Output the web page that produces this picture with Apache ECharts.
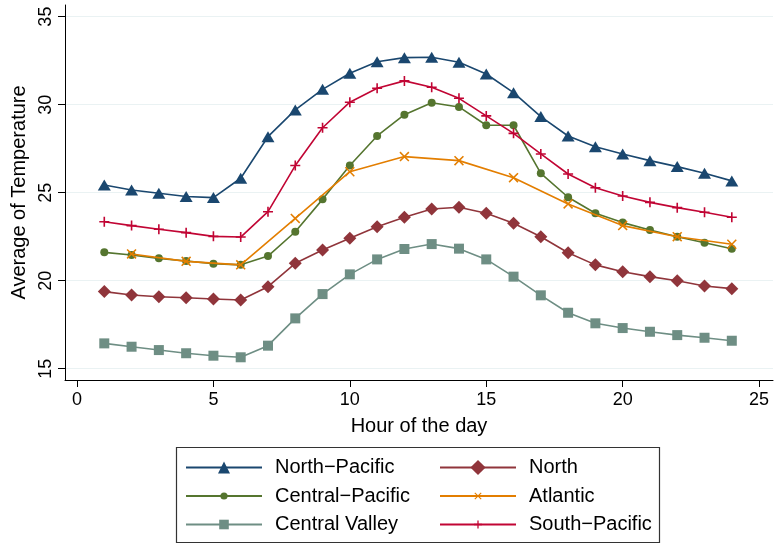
<!DOCTYPE html>
<html>
<head>
<meta charset="utf-8">
<title>Average of Temperature by hour</title>
<script src="https://cdn.jsdelivr.net/npm/echarts@6/dist/echarts.min.js"></script>
<style>
  html, body { margin: 0; padding: 0; background: #ffffff; }
  #chart { width: 775px; height: 544px; }
</style>
</head>
<body>
<div id="chart"></div>
<script>
// Hours of the day (x values)
const hours = [1, 2, 3, 4, 5, 6, 7, 8, 9, 10, 11, 12, 13, 14, 15, 16, 17, 18, 19, 20, 21, 22, 23, 24];
const atlanticHours = [2, 4, 6, 8, 10, 12, 14, 16, 18, 20, 22, 24];

// Average temperature per region
const northPacific   = [25.44, 25.15, 24.97, 24.78, 24.72, 25.82, 28.18, 29.70, 30.87, 31.78, 32.44, 32.67, 32.69, 32.41, 31.74, 30.68, 29.32, 28.22, 27.61, 27.20, 26.82, 26.48, 26.10, 25.67];
const north          = [19.38, 19.19, 19.09, 19.03, 18.96, 18.90, 19.66, 20.99, 21.74, 22.41, 23.07, 23.60, 24.07, 24.17, 23.83, 23.26, 22.50, 21.59, 20.90, 20.51, 20.23, 20.00, 19.70, 19.55];
const centralPacific = [21.61, 21.46, 21.27, 21.12, 20.97, 20.90, 21.40, 22.78, 24.62, 26.54, 28.22, 29.43, 30.11, 29.87, 28.83, 28.83, 26.10, 24.74, 23.83, 23.30, 22.88, 22.50, 22.16, 21.82];
const atlantic       = [21.52, 21.10, 20.90, 23.54, 26.19, 27.05, 26.82, 25.85, 24.36, 23.13, 22.50, 22.07];
const centralValley  = [16.44, 16.25, 16.06, 15.88, 15.74, 15.65, 16.31, 17.86, 19.24, 20.36, 21.21, 21.80, 22.08, 21.82, 21.21, 20.23, 19.17, 18.18, 17.58, 17.31, 17.10, 16.91, 16.76, 16.59];
const southPacific   = [23.35, 23.13, 22.92, 22.73, 22.52, 22.48, 23.92, 26.54, 28.69, 30.14, 30.93, 31.35, 30.99, 30.36, 29.36, 28.37, 27.20, 26.06, 25.28, 24.81, 24.45, 24.15, 23.89, 23.60];

// Tick labels
const xTicks = [0, 5, 10, 15, 20, 25];
const yTicks = [15, 20, 25, 30, 35];

// Region names
const names = ['North\u2212Pacific', 'North', 'Central\u2212Pacific', 'Atlantic', 'Central Valley', 'South\u2212Pacific'];

const FONT = '"Liberation Sans", Arial, Helvetica, sans-serif';
const PLUS = 'path://M4.2,0H5.8V4.2H10V5.8H5.8V10H4.2V5.8H0V4.2H4.2Z';
const CROSS = 'path://M0,1.1L1.1,0L5,3.9L8.9,0L10,1.1L6.1,5L10,8.9L8.9,10L5,6.1L1.1,10L0,8.9L3.9,5Z';

const pairs = (xs, ys) => xs.map((x, i) => [x, ys[i]]);

const styles = [
  { color: '#1a476f', symbol: 'triangle', size: [13, 11], legendH: 15 },
  { color: '#90353b', symbol: 'diamond',  size: 13,       legendH: 19 },
  { color: '#55752f', symbol: 'circle',   size: 8,        legendH: 9 },
  { color: '#e37e00', symbol: CROSS,      size: 10,       legendH: 9 },
  { color: '#6e8e84', symbol: 'rect',     size: 10,       legendH: 12 },
  { color: '#c10534', symbol: PLUS,       size: 10,       legendH: 10 }
];
const seriesData = [
  pairs(hours, northPacific),
  pairs(hours, north),
  pairs(hours, centralPacific),
  pairs(atlanticHours, atlantic),
  pairs(hours, centralValley),
  pairs(hours, southPacific)
];

const series = names.map((name, i) => ({
  name: name,
  type: 'line',
  data: seriesData[i],
  symbol: styles[i].symbol,
  symbolSize: styles[i].size,
  showAllSymbol: true,
  lineStyle: { color: styles[i].color, width: 1.6 },
  itemStyle: { color: styles[i].color, borderWidth: 0 },
  emphasis: { disabled: true },
  z: 2 + i
}));

// Legend laid out as a two-column grid, one component per entry
const legendRows = [467.5, 496, 524.5];
const legendCols = [185, 439];
const legends = names.map((name, i) => {
  const row = Math.floor(i / 2), col = i % 2;
  return {
    data: [name],
    left: legendCols[col],
    top: legendRows[row] - 10,
    orient: 'horizontal',
    padding: 0,
    itemWidth: 76,
    itemHeight: styles[i].legendH,
    selectedMode: false,
    textStyle: { fontFamily: FONT, fontSize: 20, color: '#000', padding: [0, 0, 0, 8] }
  };
});

const chart = echarts.init(document.getElementById('chart'), null, { renderer: 'canvas' });
chart.setOption({
  animation: false,
  backgroundColor: '#ffffff',
  textStyle: { fontFamily: FONT },
  grid: { left: 65, right: 2, top: 5, bottom: 164, containLabel: false, outerBoundsMode: 'none' },
  xAxis: {
    type: 'value',
    min: -0.44,
    max: 25.51,
    name: 'Hour of the day',
    nameLocation: 'middle',
    nameGap: 36,
    nameMoveOverlap: false,
    nameTextStyle: { fontFamily: FONT, fontSize: 20, color: '#000' },
    axisLine: { show: true, onZero: false, lineStyle: { color: '#000', width: 1 } },
    axisTick: { show: true, length: 7, customValues: xTicks, lineStyle: { color: '#000' } },
    axisLabel: { customValues: xTicks, margin: 11, fontFamily: FONT, fontSize: 18, color: '#000' },
    splitLine: { show: false }
  },
  yAxis: {
    type: 'value',
    min: 14.36,
    max: 35.66,
    name: 'Average of Temperature',
    nameLocation: 'middle',
    nameRotate: 90,
    nameGap: 36,
    nameMoveOverlap: false,
    nameTextStyle: { fontFamily: FONT, fontSize: 20, color: '#000' },
    axisLine: { show: true, onZero: false, lineStyle: { color: '#000', width: 1 } },
    axisTick: { show: true, length: 7, customValues: yTicks, lineStyle: { color: '#000' } },
    axisLabel: { customValues: yTicks, rotate: 90, margin: 10, fontFamily: FONT, fontSize: 18, color: '#000' },
    splitLine: { show: true, lineStyle: { color: '#eaf2f3', width: 1 } }
  },
  legend: legends,
  graphic: [{
    type: 'rect',
    shape: { x: 176.5, y: 447.5, width: 483, height: 95 },
    style: { fill: 'none', stroke: '#333333', lineWidth: 1.2 },
    silent: true
  }],
  series: series
});
</script>
</body>
</html>
